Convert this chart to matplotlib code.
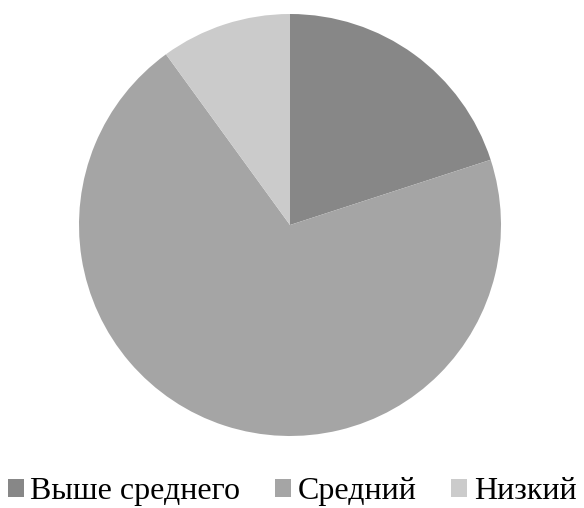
import matplotlib.pyplot as plt
from matplotlib.patches import Patch

labels = ["Выше среднего", "Средний", "Низкий"]
values = [20, 70, 10]
colors = ["#878787", "#a5a5a5", "#cbcbcb"]

plt.rcParams["font.family"] = ["Liberation Serif", "DejaVu Serif"]

fig = plt.figure(figsize=(5.84, 5.08), dpi=100)
ax = fig.add_axes([79 / 584, 72 / 508, 422 / 584, 422 / 508])
ax.pie(values, colors=colors, startangle=90, counterclock=False, radius=1.0,
       wedgeprops={"linewidth": 0})
ax.set_xlim(-1, 1)
ax.set_ylim(-1, 1)
ax.set_aspect("equal")
ax.axis("off")

handles = [Patch(facecolor=c, edgecolor="none") for c in colors]
fig.legend(handles, labels, loc="lower center", ncol=3, frameon=False,
           fontsize=23, handlelength=0.5, handleheight=0.5, handletextpad=0.2,
           columnspacing=1.1, borderpad=0, borderaxespad=0,
           bbox_to_anchor=(0.5, 0.004))

fig.savefig("out.png", dpi=100)
